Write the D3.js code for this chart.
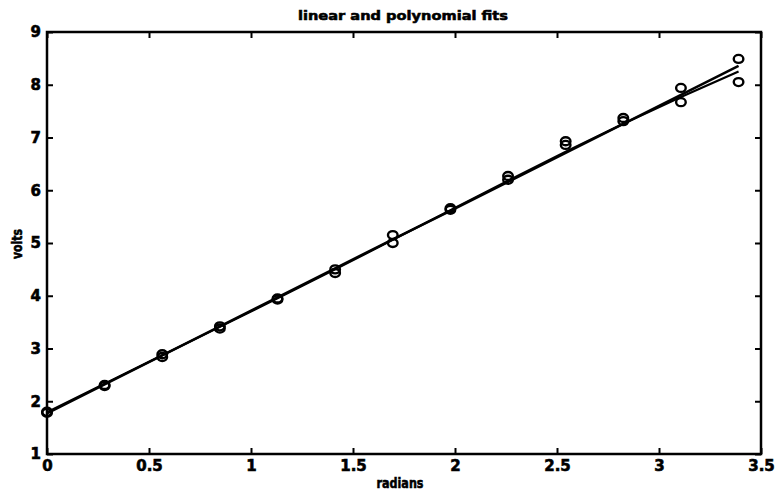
<!DOCTYPE html>
<html>
<head>
<meta charset="utf-8">
<title>linear and polynomial fits</title>
<script src="https://cdnjs.cloudflare.com/ajax/libs/d3/7.8.5/d3.min.js"></script>
<style>
  body { margin: 0; background: #fff; }
  svg text { font-family: "DejaVu Sans", "Liberation Sans", Arial, sans-serif; font-weight: bold; fill: #000; }
</style>
</head>
<body>
<script>

// x positions (radians) of the measurements
var radians = [0, 0.2825, 0.565, 0.8475, 1.13, 1.4125, 1.695, 1.9775, 2.26, 2.5425, 2.825, 3.1075, 3.39]

// two sets of measured volts
var voltsA = [1.80, 2.31, 2.89, 3.42, 3.95, 4.50, 5.15, 5.66, 6.27, 6.93, 7.37, 7.94, 8.49]
var voltsB = [1.78, 2.29, 2.84, 3.38, 3.93, 4.43, 5.00, 5.63, 6.20, 6.86, 7.31, 7.67, 8.05]

// fitted curves read at the same x positions
var linearFit = [1.77, 2.32, 2.87, 3.42, 3.97, 4.52, 5.07, 5.61, 6.16, 6.71, 7.26, 7.81, 8.36]
var polyFit   = [1.79, 2.33, 2.87, 3.41, 3.95, 4.50, 5.06, 5.62, 6.18, 6.73, 7.26, 7.77, 8.25]

var xTicks = [0, 0.5, 1, 1.5, 2, 2.5, 3, 3.5]
var yTicks = [1, 2, 3, 4, 5, 6, 7, 8, 9]

var w = 780, h = 492
var margin = {top: 32, right: 19, bottom: 38, left: 47}

var svg = d3.select("body").append("svg")
    .attr("width", w)
    .attr("height", h)

var x = d3.scaleLinear()
    .domain([0, 3.5])
    .range([margin.left, w - margin.right])

var y = d3.scaleLinear()
    .domain([1, 9])
    .range([h - margin.bottom, margin.top])

function styleAxis(g) {
    g.select(".domain").remove()
    g.selectAll(".tick line").attr("stroke", "#000").attr("stroke-width", 2)
    g.selectAll(".tick text")
        .style("font-size", "15px")
        .attr("stroke", "#000")
        .attr("stroke-width", 0.6)
}

// bottom axis with labels
svg.append("g")
    .attr("transform", "translate(0," + (h - margin.bottom) + ")")
    .call(d3.axisBottom(x).tickValues(xTicks).tickFormat(d3.format("")).tickSizeInner(-6).tickSizeOuter(0).tickPadding(6))
    .call(styleAxis)

// left axis with labels
svg.append("g")
    .attr("transform", "translate(" + margin.left + ",0)")
    .call(d3.axisLeft(y).tickValues(yTicks).tickFormat(d3.format("")).tickSizeInner(-6).tickSizeOuter(0).tickPadding(6))
    .call(styleAxis)

// top and right ticks, no labels
svg.append("g")
    .attr("transform", "translate(0," + margin.top + ")")
    .call(d3.axisTop(x).tickValues(xTicks).tickFormat("").tickSizeInner(-6).tickSizeOuter(0))
    .call(styleAxis)

svg.append("g")
    .attr("transform", "translate(" + (w - margin.right) + ",0)")
    .call(d3.axisRight(y).tickValues(yTicks).tickFormat("").tickSizeInner(-6).tickSizeOuter(0))
    .call(styleAxis)

// frame
svg.append("rect")
    .attr("x", x(0))
    .attr("y", y(9))
    .attr("width", x(3.5) - x(0))
    .attr("height", y(1) - y(9))
    .attr("fill", "none")
    .attr("stroke", "#000")
    .attr("stroke-width", 2.5)

// fit lines
var line = d3.line()
    .x(function(d){ return x(d[0]) })
    .y(function(d){ return y(d[1]) })

svg.append("path")
    .datum(d3.zip(radians, linearFit))
    .attr("d", line)
    .attr("fill", "none")
    .attr("stroke", "#000")
    .attr("stroke-width", 2.5)

svg.append("path")
    .datum(d3.zip(radians, polyFit))
    .attr("d", line)
    .attr("fill", "none")
    .attr("stroke", "#000")
    .attr("stroke-width", 2.2)

// data markers
var pts = d3.zip(radians, voltsA).concat(d3.zip(radians, voltsB))
svg.selectAll("ellipse.pt")
    .data(pts)
    .enter()
    .append("ellipse")
    .attr("class", "pt")
    .attr("cx", function(d){ return x(d[0]) })
    .attr("cy", function(d){ return y(d[1]) })
    .attr("rx", 4.8)
    .attr("ry", 4)
    .attr("fill", "none")
    .attr("stroke", "#000")
    .attr("stroke-width", 2.4)

// title and axis labels
svg.append("text")
    .attr("x", 403)
    .attr("y", 20)
    .attr("text-anchor", "middle")
    .attr("textLength", 210)
    .attr("lengthAdjust", "spacingAndGlyphs")
    .attr("stroke", "#000")
    .attr("stroke-width", 0.6)
    .style("font-size", "13px")
    .text("linear and polynomial fits")

svg.append("text")
    .attr("x", 400)
    .attr("y", 488)
    .attr("text-anchor", "middle")
    .attr("textLength", 47)
    .attr("lengthAdjust", "spacingAndGlyphs")
    .attr("stroke", "#000")
    .attr("stroke-width", 0.6)
    .style("font-size", "14px")
    .text("radians")

svg.append("text")
    .attr("transform", "translate(22," + (y(5) + 1) + ") rotate(-90)")
    .attr("text-anchor", "middle")
    .attr("textLength", 30)
    .attr("lengthAdjust", "spacingAndGlyphs")
    .attr("stroke", "#000")
    .attr("stroke-width", 0.6)
    .style("font-size", "14px")
    .text("volts")

</script>
</body>
</html>
